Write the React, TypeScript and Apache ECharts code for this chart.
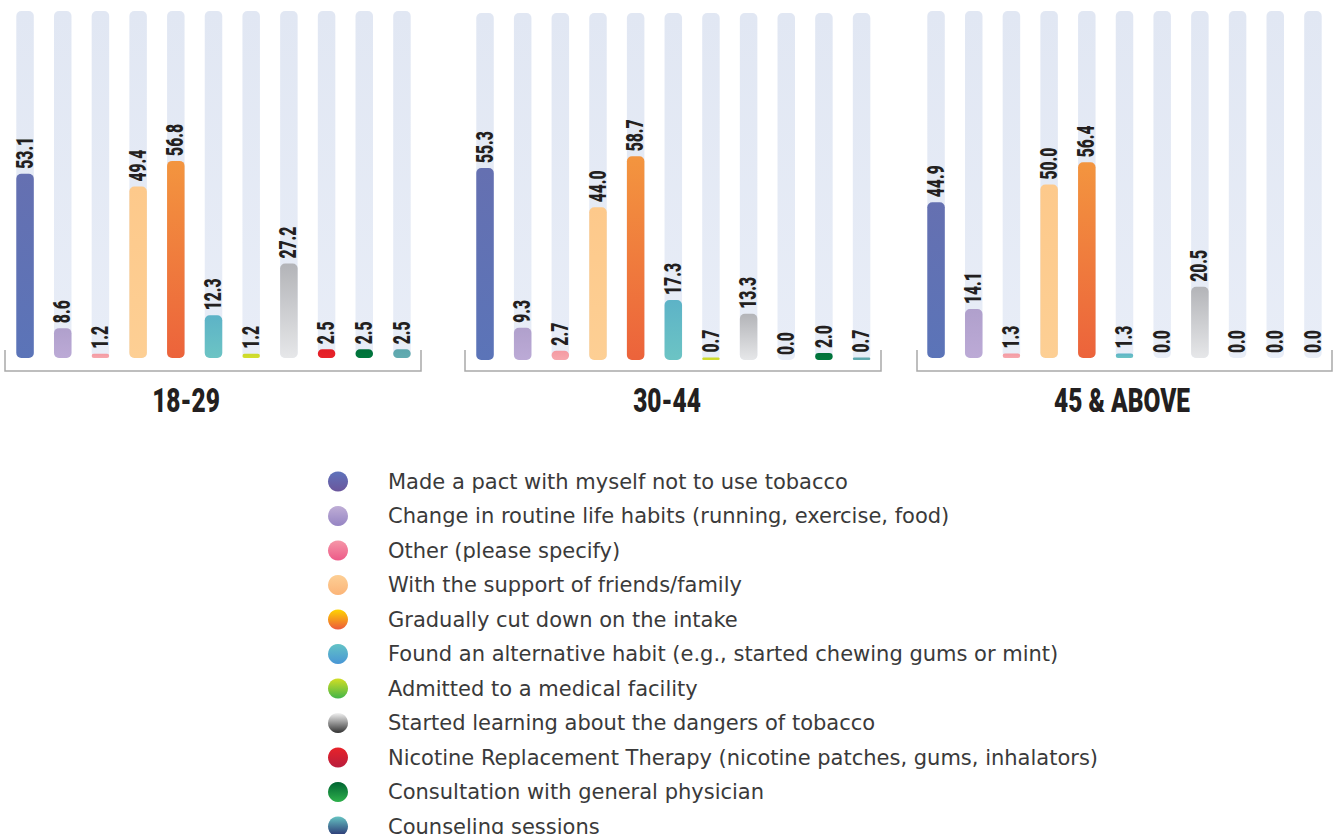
import React, { useEffect, useRef } from "react";
import * as echarts from "echarts";

const CATEGORIES = [
  "Made a pact with myself not to use tobacco",
  "Change in routine life habits (running, exercise, food)",
  "Other (please specify)",
  "With the support of friends/family",
  "Gradually cut down on the intake",
  "Found an alternative habit (e.g., started chewing gums or mint)",
  "Admitted to a medical facility",
  "Started learning about the dangers of tobacco",
  "Nicotine Replacement Therapy (nicotine patches, gums, inhalators)",
  "Consultation with general physician",
  "Counseling sessions",
];

const GROUPS = ["18-29", "30-44", "45 & ABOVE"];

const AGE_18_29 = [53.1, 8.6, 1.2, 49.4, 56.8, 12.3, 1.2, 27.2, 2.5, 2.5, 2.5];
const AGE_30_44 = [55.3, 9.3, 2.7, 44.0, 58.7, 17.3, 0.7, 13.3, 0.0, 2.0, 0.7];
const AGE_45_UP = [44.9, 14.1, 1.3, 50.0, 56.4, 1.3, 0.0, 20.5, 0.0, 0.0, 0.0];
const GROUP_VALUES = [AGE_18_29, AGE_30_44, AGE_45_UP];
const FULL_SCALE = 100;

const BAR_COLORS = [
  ["#6570b1", "#5b74b8"],
  ["#b0a0cc", "#bcaad6"],
  ["#f49aa2", "#f6a8ae"],
  ["#fdc98b", "#fdcf94"],
  ["#f3953f", "#ec633b"],
  ["#5db3c7", "#6cc4c4"],
  ["#cbd92b", "#d3de2e"],
  ["#b3b4b8", "#e6e7e9"],
  ["#e31e26", "#e8232a"],
  ["#00703a", "#00783d"],
  ["#5ca6ad", "#63acb1"],
];

const LEGEND_COLORS = [
  ["#5f73bb", "#6b569c"],
  ["#bfaed6", "#9584c3"],
  ["#f597a8", "#ed5a88"],
  ["#fdcf95", "#fbb478"],
  ["#ffd500", "#ed5a3c"],
  ["#63c3c6", "#4996d5"],
  ["#d2de24", "#43b549"],
  ["#f2f2f2", "#333333"],
  ["#e8232a", "#b81d3c"],
  ["#006432", "#2eb04b"],
  ["#66c3c2", "#272f70"],
];

const CONDENSED = "Roboto, 'Liberation Sans', sans-serif";

const grad = (c: string[]) =>
  new echarts.graphic.LinearGradient(0, 0, 0, 1, [
    { offset: 0, color: c[0] },
    { offset: 1, color: c[1] },
  ]);

const GRIDS = [
  { left: 6.2, top: 11, width: 414.6, height: 347 },
  { left: 466.2, top: 13, width: 414.2, height: 347 },
  { left: 917.2, top: 11, width: 414.6, height: 347 },
];
const BRACKETS = [
  [5, 421],
  [465, 881],
  [917, 1332],
];
const TITLE_X = [186, 667, 1122];

export default function App() {
  const ref = useRef<HTMLDivElement>(null);
  useEffect(() => {
    if (!ref.current) return;
    const chart = echarts.init(ref.current, undefined, { renderer: "svg" });
    const series: any[] = [];
    GROUP_VALUES.forEach((vals, g) => {
      series.push({
        type: "bar",
        name: "bg",
        xAxisIndex: g,
        yAxisIndex: g,
        data: CATEGORIES.map(() => FULL_SCALE),
        barWidth: 17.5,
        barGap: "-100%",
        silent: true,
        z: 1,
        itemStyle: { color: grad(["#e1e7f3", "#e8edf7"]), borderRadius: 5 },
      });
      CATEGORIES.forEach((c, i) => {
        series.push({
          type: "bar",
          name: c,
          xAxisIndex: g,
          yAxisIndex: g,
          data: vals.map((v, j) => (j === i ? v : "-")),
          barWidth: 17.5,
          barGap: "-100%",
          z: 2,
          itemStyle: { color: grad(BAR_COLORS[i]), borderRadius: 5 },
        });
      });
      series.push({
        type: "custom",
        name: "labels",
        xAxisIndex: g,
        yAxisIndex: g,
        z: 5,
        silent: true,
        data: vals.map((v, i) => [i, v]),
        encode: { x: 0, y: 1 },
        renderItem: (params: any, api: any) => {
          const i = api.value(0);
          const v = api.value(1);
          const p = api.coord([i, v]);
          return {
            type: "text",
            x: p[0],
            y: p[1] - 5,
            rotation: Math.PI / 2,
            scaleX: 0.68,
            style: {
              text: Number(v).toFixed(1),
              textAlign: "left",
              textVerticalAlign: "middle",
              fontFamily: CONDENSED,
              fontWeight: 900,
              fontSize: 23,
              fill: "#231f20",
            },
          };
        },
      });
    });

    const graphics: any[] = [];
    BRACKETS.forEach(([a, b]) => {
      graphics.push({
        type: "polyline",
        shape: { points: [[a, 350], [a, 371], [b, 371], [b, 350]] },
        style: { stroke: "#a9a9a9", lineWidth: 1.5, fill: null },
      });
    });
    GROUPS.forEach((g, i) => {
      graphics.push({
        type: "text",
        x: TITLE_X[i],
        y: 401,
        scaleX: 0.72,
        style: {
          text: g,
          textAlign: "center",
          textVerticalAlign: "middle",
          fontFamily: CONDENSED,
          fontWeight: 900,
          fontSize: 34,
          fill: "#231f20",
        },
      });
    });

    chart.setOption({
      animation: false,
      grid: GRIDS.map((gr) => ({ ...gr })),
      xAxis: GRIDS.map((_, i) => ({
        type: "category",
        gridIndex: i,
        data: CATEGORIES,
        show: false,
      })),
      yAxis: GRIDS.map((_, i) => ({
        type: "value",
        gridIndex: i,
        min: 0,
        max: FULL_SCALE,
        show: false,
      })),
      legend: {
        orient: "vertical",
        left: 328,
        top: 471,
        height: 400,
        padding: 0,
        icon: "circle",
        itemWidth: 20,
        itemHeight: 20,
        itemGap: 13.5,
        selectedMode: false,
        data: CATEGORIES.map((c, i) => ({
          name: c,
          itemStyle: { color: grad(LEGEND_COLORS[i]) },
        })),
        textStyle: {
          fontFamily: "'DejaVu Sans', sans-serif",
          fontSize: 21,
          color: "#3a3a3a",
          lineHeight: 20,
          padding: [0, 0, 0, 35],
        },
      },
      graphic: graphics,
      series,
    });
    return () => chart.dispose();
  }, []);
  return (
    <div
      ref={ref}
      style={{ position: "absolute", left: 0, top: 0, width: 1335, height: 834 }}
    />
  );
}
